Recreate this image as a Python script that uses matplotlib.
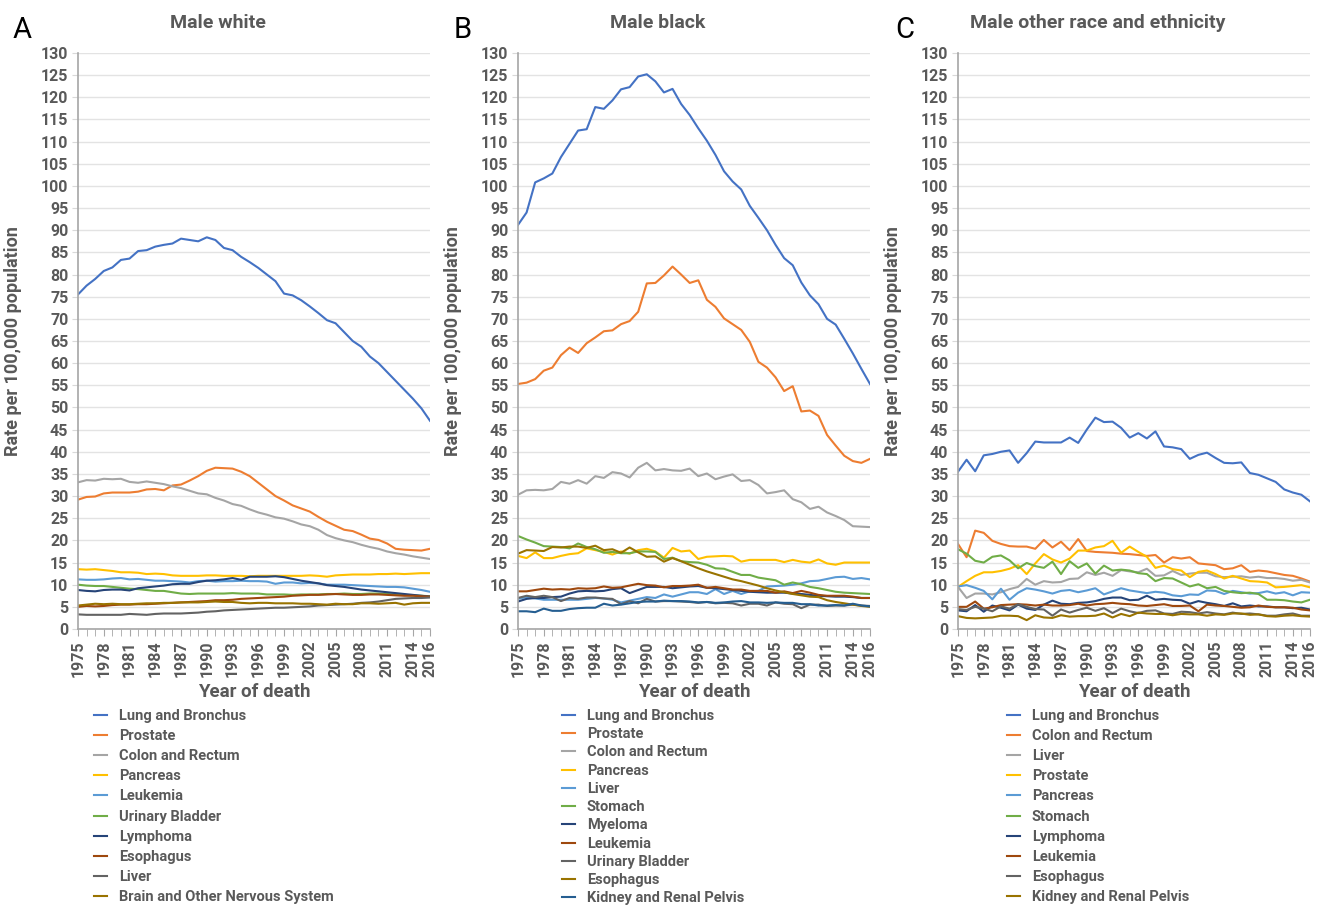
import numpy as np
import matplotlib
matplotlib.use("Agg")
import matplotlib.pyplot as plt

plt.rcParams['font.family'] = ['Roboto', 'DejaVu Sans']

years = np.arange(1975, 2017)
year_ticks = [1975, 1978, 1981, 1984, 1987, 1990, 1993, 1996, 1999, 2002,
              2005, 2008, 2011, 2014, 2016]

# A: male white
labels_w = ['Lung and Bronchus', 'Prostate', 'Colon and Rectum', 'Pancreas', 'Leukemia',
            'Urinary Bladder', 'Lymphoma', 'Esophagus', 'Liver', 'Brain and Other Nervous System']
lung_w = [75.5, 77.5, 79, 80.8, 81.6, 83.3, 83.6, 85.3, 85.5, 86.3, 86.7, 87, 88.1, 87.8, 87.5,
          88.4, 87.8, 86, 85.5, 84, 82.8, 81.5, 80, 78.5, 75.7, 75.3, 74.2, 72.8, 71.3, 69.7,
          69, 67, 65, 63.7, 61.5, 60, 58, 56, 54, 52, 49.8, 47]
prostate_w = [29.2, 29.8, 29.9, 30.6, 30.8, 30.8, 30.8, 31, 31.5, 31.6, 31.3, 32.4, 32.6, 33.5,
              34.5, 35.7, 36.4, 36.3, 36.2, 35.5, 34.5, 33, 31.5, 30, 29, 27.9, 27.2, 26.5,
              25.3, 24.2, 23.3, 22.4, 22.1, 21.3, 20.4, 20.1, 19.3, 18.1, 17.9, 17.8, 17.7, 18.1]
colon_w = [33.1, 33.6, 33.5, 33.9, 33.8, 33.9, 33.2, 33, 33.3, 33, 32.7, 32.2, 31.8, 31.2, 30.6,
           30.4, 29.6, 29, 28.2, 27.8, 27, 26.3, 25.8, 25.2, 24.9, 24.3, 23.6, 23.2, 22.4, 21.2,
           20.5, 20, 19.6, 19, 18.5, 18.1, 17.5, 17.1, 16.8, 16.4, 16.1, 15.8]
pancreas_w = [13.5, 13.4, 13.5, 13.3, 13.1, 12.8, 12.8, 12.7, 12.4, 12.5, 12.4, 12.1, 12.0, 12.0,
              12.0, 12.1, 12.1, 12.0, 12.0, 12.0, 11.9, 12.0, 12.0, 12.0, 12.0, 12.0, 12.0, 12.1,
              12.0, 11.8, 12.1, 12.2, 12.3, 12.3, 12.3, 12.4, 12.4, 12.5, 12.4, 12.5, 12.6, 12.6]
leuk_w = [11.2, 11.1, 11.1, 11.2, 11.4, 11.5, 11.2, 11.3, 11.1, 10.9, 10.9, 10.8, 10.7, 10.5,
          10.8, 10.9, 10.7, 10.8, 10.8, 10.9, 10.8, 10.8, 10.7, 10.2, 10.5, 10.5, 10.3, 10.4,
          10.3, 10.0, 10.0, 10.0, 9.9, 9.8, 9.7, 9.6, 9.5, 9.5, 9.4, 9.1, 8.8, 8.4]
bladder_w = [10.0, 9.8, 9.7, 9.7, 9.5, 9.3, 9.1, 9.0, 8.8, 8.6, 8.6, 8.3, 8.0, 7.9, 8.0, 8.0,
             8.0, 8.0, 8.1, 8.0, 8.0, 8.0, 7.8, 7.8, 7.8, 7.7, 7.8, 7.8, 7.8, 7.9, 7.9, 8.0,
             7.9, 7.9, 8.0, 8.0, 7.9, 7.8, 7.7, 7.6, 7.5, 7.4]
lymph_w = [8.8, 8.6, 8.5, 8.8, 8.9, 8.9, 8.7, 9.2, 9.4, 9.6, 9.8, 10.1, 10.2, 10.2, 10.6, 10.9,
           11.0, 11.2, 11.5, 11.1, 11.8, 11.8, 11.8, 11.9, 11.7, 11.3, 10.9, 10.6, 10.3, 9.9,
           9.7, 9.5, 9.2, 8.9, 8.7, 8.5, 8.3, 8.1, 7.9, 7.7, 7.5, 7.3]
esoph_w = [5.0, 5.2, 5.1, 5.2, 5.4, 5.5, 5.5, 5.6, 5.6, 5.7, 5.8, 5.9, 6.0, 6.1, 6.2, 6.3, 6.5,
           6.5, 6.6, 6.8, 6.9, 7.0, 7.1, 7.2, 7.3, 7.5, 7.6, 7.7, 7.7, 7.8, 7.9, 7.8, 7.7, 7.7,
           7.8, 7.8, 7.7, 7.6, 7.5, 7.5, 7.4, 7.3]
liver_w = [3.3, 3.2, 3.2, 3.2, 3.2, 3.2, 3.4, 3.3, 3.2, 3.4, 3.5, 3.5, 3.5, 3.6, 3.7, 3.9, 4.0,
           4.2, 4.3, 4.4, 4.5, 4.6, 4.7, 4.8, 4.8, 4.9, 5.0, 5.1, 5.3, 5.4, 5.5, 5.6, 5.7, 5.9,
           6.0, 6.2, 6.5, 6.8, 6.9, 7.0, 7.0, 7.1]
brain_w = [5.3, 5.5, 5.7, 5.6, 5.7, 5.6, 5.6, 5.7, 5.8, 5.8, 5.9, 5.9, 6.0, 6.0, 6.0, 6.1, 6.2,
           6.1, 6.1, 5.9, 5.8, 5.9, 5.9, 5.8, 5.8, 5.8, 5.7, 5.7, 5.6, 5.5, 5.7, 5.6, 5.6, 5.8,
           5.8, 5.7, 5.8, 5.9, 5.5, 5.8, 5.9, 5.9]

# B: male black
labels_b = ['Lung and Bronchus', 'Prostate', 'Colon and Rectum', 'Pancreas', 'Liver', 'Stomach',
            'Myeloma', 'Leukemia', 'Urinary Bladder', 'Esophagus', 'Kidney and Renal Pelvis']
lung_b = [91.2, 94, 100.8, 101.7, 102.8, 106.5, 109.5, 112.5, 112.8, 117.8, 117.4, 119.3, 121.8,
          122.3, 124.7, 125.2, 123.6, 121.1, 121.9, 118.5, 116, 113, 110.2, 107, 103.3, 101,
          99.2, 95.5, 92.8, 90, 86.7, 83.7, 82.1, 78.2, 75.3, 73.3, 70, 68.7, 65.5, 62.2, 58.7, 55.3]
prostate_b = [55.3, 55.6, 56.4, 58.3, 59, 61.8, 63.5, 62.3, 64.5, 65.8, 67.2, 67.4, 68.8, 69.5,
              71.6, 78, 78.1, 79.8, 81.8, 80, 78.1, 78.7, 74.3, 72.7, 70.1, 68.8, 67.5, 64.8,
              60.3, 59, 56.8, 53.7, 54.8, 49.1, 49.3, 48.1, 43.8, 41.4, 39.1, 37.9, 37.5, 38.4]
colon_b = [30.3, 31.3, 31.4, 31.3, 31.6, 33.2, 32.8, 33.6, 32.8, 34.5, 34.1, 35.4, 35.1, 34.2,
           36.4, 37.5, 35.8, 36.1, 35.8, 35.7, 36.2, 34.5, 35.1, 33.8, 34.4, 34.9, 33.4, 33.6,
           32.5, 30.6, 30.9, 31.3, 29.3, 28.6, 27.1, 27.6, 26.3, 25.5, 24.6, 23.2, 23.1, 23.0]
pancreas_b = [16.5, 16.0, 17.3, 16.0, 16.0, 16.5, 16.9, 17.1, 18.2, 17.8, 17.4, 16.8, 17.5, 17.0,
              17.8, 18.1, 17.5, 16.1, 18.3, 17.5, 17.7, 15.8, 16.3, 16.4, 16.5, 16.4, 15.2, 15.6,
              15.6, 15.6, 15.6, 15.1, 15.6, 15.2, 15.0, 15.7, 14.8, 14.5, 15.0, 15.0, 15.0, 15.0]
liver_b = [6.8, 7.2, 6.9, 6.6, 6.6, 6.6, 6.6, 6.6, 6.8, 7.0, 6.9, 6.6, 6.0, 6.4, 6.8, 7.2, 7.0,
           7.8, 7.3, 7.8, 8.3, 8.3, 7.9, 9.0, 7.9, 8.6, 7.9, 8.5, 8.6, 9.6, 9.7, 9.8, 10.0, 10.3,
           10.8, 10.9, 11.3, 11.7, 11.8, 11.3, 11.5, 11.2]
stomach_b = [21.0, 20.2, 19.5, 18.7, 18.6, 18.5, 18.2, 19.3, 18.5, 18.0, 17.2, 17.4, 17.1, 17.1,
             17.5, 17.5, 17.4, 15.8, 16.1, 15.3, 15.1, 15.0, 14.5, 13.7, 13.6, 12.9, 12.2, 12.2,
             11.6, 11.3, 11.0, 10.0, 10.5, 10.1, 9.5, 9.2, 8.8, 8.4, 8.2, 8.1, 8.0, 7.9]
myeloma_b = [6.2, 6.8, 7.0, 7.0, 7.2, 7.3, 8.0, 8.5, 8.6, 8.5, 8.6, 9.0, 9.2, 8.1, 8.8, 9.5,
             9.5, 9.5, 9.2, 9.4, 9.6, 9.7, 9.3, 9.2, 9.0, 8.8, 8.6, 8.4, 8.3, 8.2, 8.2, 8.2,
             8.0, 7.9, 7.7, 7.5, 7.4, 7.3, 7.3, 7.2, 7.0, 7.0]
leuk_b = [8.5, 8.5, 8.8, 9.1, 8.9, 9.0, 8.9, 9.2, 9.1, 9.2, 9.6, 9.3, 9.4, 9.8, 10.2, 9.9, 9.8,
          9.4, 9.7, 9.7, 9.8, 10.0, 9.3, 9.5, 9.2, 8.9, 8.9, 8.6, 8.6, 8.6, 8.2, 8.5, 8.1, 8.6,
          8.2, 7.7, 7.5, 7.5, 7.5, 7.3, 7.0, 7.0]
bladder_b = [7.0, 7.5, 7.2, 7.5, 7.2, 6.3, 7.0, 6.8, 7.1, 7.1, 6.9, 6.8, 5.6, 6.3, 5.8, 6.8, 6.2,
             6.3, 6.3, 6.2, 6.1, 5.9, 6.1, 5.8, 5.9, 5.8, 5.3, 5.7, 5.7, 5.3, 6.0, 5.7, 5.6, 4.7,
             5.5, 5.5, 5.2, 5.3, 5.3, 5.5, 5.3, 5.2]
esoph_b = [17.0, 17.8, 17.7, 17.6, 18.5, 18.4, 18.6, 18.6, 18.3, 18.8, 17.8, 18.0, 17.2, 18.4,
           17.3, 16.3, 16.4, 15.2, 16.0, 15.3, 14.5, 13.7, 13.0, 12.4, 11.8, 11.2, 10.8, 10.3,
           9.8, 9.2, 8.7, 8.3, 7.9, 7.6, 7.3, 7.2, 6.5, 6.1, 5.8, 5.5, 5.2, 5.0]
kidney_b = [4.0, 4.0, 3.8, 4.6, 4.1, 4.1, 4.5, 4.7, 4.8, 4.8, 5.7, 5.3, 5.5, 5.8, 6.1, 6.2, 6.2,
            6.4, 6.3, 6.3, 6.2, 6.0, 6.1, 5.9, 6.0, 6.2, 6.3, 6.0, 6.0, 5.9, 6.0, 5.9, 5.9, 5.6,
            5.6, 5.3, 5.3, 5.4, 5.3, 5.7, 5.3, 5.1]

# C: male other race and ethnicity
labels_o = ['Lung and Bronchus', 'Colon and Rectum', 'Liver', 'Prostate', 'Pancreas', 'Stomach',
            'Lymphoma', 'Leukemia', 'Esophagus', 'Kidney and Renal Pelvis']
lung_o = [35.5, 38.2, 35.6, 39.2, 39.5, 40, 40.3, 37.5, 39.7, 42.3, 42.1, 42.1, 42.1, 43.2, 42,
          45, 47.7, 46.7, 46.8, 45.4, 43.2, 44.2, 43, 44.6, 41.2, 41, 40.6, 38.4, 39.3, 39.8,
          38.6, 37.5, 37.4, 37.6, 35.2, 34.8, 34, 33.2, 31.5, 30.8, 30.3, 28.8]
colon_o = [19.2, 16.2, 22.2, 21.7, 19.9, 19.2, 18.7, 18.6, 18.6, 18.1, 20.1, 18.4, 19.7, 17.8,
           20.3, 17.6, 17.4, 17.3, 17.2, 17.0, 16.9, 16.7, 16.5, 16.7, 15.0, 16.2, 15.9, 16.2,
           14.8, 14.6, 14.4, 13.5, 13.7, 14.4, 12.9, 13.2, 13.0, 12.6, 12.2, 12.0, 11.4, 10.7]
liver_o = [9.5, 7.0, 8.0, 8.0, 7.8, 8.3, 9.0, 9.5, 11.3, 10.0, 10.8, 10.5, 10.6, 11.3, 11.4,
           12.8, 12.2, 12.7, 12.0, 13.3, 13.0, 12.8, 13.6, 12.0, 12.1, 13.1, 12.2, 12.5, 12.7,
           12.7, 11.9, 11.7, 11.8, 11.9, 11.6, 11.8, 11.5, 11.5, 11.3, 10.9, 11.1, 10.5]
prostate_o = [9.5, 10.8, 12.0, 12.8, 12.8, 13.1, 13.6, 14.4, 12.4, 14.8, 16.9, 15.7, 15.0, 15.9,
              17.7, 17.7, 18.4, 18.7, 19.9, 17.2, 18.6, 17.4, 16.3, 13.8, 14.3, 13.5, 13.2, 11.7,
              12.9, 13.2, 12.4, 11.4, 12.0, 11.4, 10.8, 10.7, 10.5, 9.4, 9.5, 9.7, 9.9, 9.4]
pancreas_o = [9.6, 9.9, 9.3, 8.6, 6.7, 9.1, 6.6, 8.2, 9.2, 8.9, 8.5, 8.0, 8.6, 8.8, 8.3, 8.7,
              9.2, 7.8, 8.5, 9.2, 8.7, 8.4, 8.1, 8.4, 8.2, 7.6, 7.4, 7.8, 7.7, 8.7, 8.6, 7.9,
              8.6, 8.3, 8.0, 8.1, 8.5, 8.0, 8.3, 7.6, 8.3, 8.2]
stomach_o = [18.0, 17.0, 15.4, 15.0, 16.3, 16.6, 15.5, 13.7, 14.9, 14.2, 13.8, 15.2, 12.4, 15.3,
             13.8, 14.8, 12.5, 14.3, 13.2, 13.4, 13.2, 12.6, 12.4, 10.8, 11.5, 11.4, 10.5, 9.6,
             10.1, 9.2, 9.5, 8.6, 8.3, 8.1, 8.2, 7.9, 6.6, 6.6, 6.5, 6.2, 6.0, 6.6]
lymph_o = [4.2, 4.0, 5.4, 3.9, 5.3, 4.8, 4.2, 5.5, 4.6, 4.3, 5.5, 6.4, 5.7, 5.6, 5.9, 6.0, 6.3,
           6.8, 7.1, 7.1, 6.5, 6.6, 7.5, 6.6, 6.8, 6.6, 6.5, 5.7, 6.3, 5.9, 5.6, 5.2, 5.8, 5.1,
           5.3, 5.1, 5.1, 4.9, 4.9, 4.7, 4.8, 4.4]
leuk_o = [5.0, 5.0, 6.2, 4.6, 4.9, 5.4, 5.5, 5.6, 5.5, 5.3, 5.5, 5.3, 5.3, 5.4, 5.7, 5.3, 5.6,
          5.7, 5.9, 5.7, 5.6, 5.3, 5.2, 5.4, 5.6, 5.2, 5.2, 5.3, 4.0, 5.5, 5.3, 5.2, 5.0, 4.8,
          4.9, 5.3, 5.0, 4.9, 4.9, 4.8, 4.4, 4.2]
esoph_o = [4.5, 4.3, 5.0, 4.6, 4.0, 5.1, 4.6, 5.6, 5.0, 4.5, 4.4, 3.0, 4.4, 3.7, 4.3, 4.8, 4.1,
           4.7, 3.6, 4.6, 4.0, 3.6, 4.1, 4.2, 3.5, 3.4, 3.9, 3.8, 3.5, 3.8, 3.5, 3.3, 3.7, 3.4,
           3.5, 3.3, 3.0, 3.0, 3.3, 3.5, 3.0, 3.0]
kidney_o = [2.9, 2.5, 2.4, 2.5, 2.6, 3.0, 3.0, 2.9, 2.0, 3.1, 2.6, 2.5, 3.1, 2.8, 2.9, 2.9, 3.0,
            3.5, 2.6, 3.4, 2.9, 3.7, 3.5, 3.4, 3.4, 3.1, 3.4, 3.3, 3.3, 3.0, 3.3, 3.2, 3.5, 3.5,
            3.2, 3.3, 2.9, 2.8, 3.0, 3.1, 2.9, 2.8]

# excel office palette
colors = ['#4472C4', '#ED7D31', '#A5A5A5', '#FFC000', '#5B9BD5', '#70AD47',
          '#264478', '#9E480E', '#636363', '#997300', '#255E91']
txt = '#595959'

fig = plt.figure(figsize=(13.2, 9.08), dpi=100)
W, H = 1320, 908


def panel(left_px, series, labels, letter, letter_x, title, title_x, leg_x, leg_space):
    ax = fig.add_axes([left_px / W, 1 - 629 / H, 352 / W, 576 / H])
    for i, (s, lab) in enumerate(zip(series, labels)):
        ax.plot(years, s, color=colors[i], lw=1.5, label=lab)
    ax.set_xlim(1975, 2016)
    ax.set_ylim(0, 130)
    ax.set_yticks(np.arange(0, 131, 5))
    ax.set_xticks(year_ticks)
    ax.set_xticks(years, minor=True)
    ax.grid(axis='y', color='#E3E3E3', lw=1)
    ax.set_axisbelow(True)
    for sp in ['top', 'right']:
        ax.spines[sp].set_visible(False)
    for sp in ['left', 'bottom']:
        ax.spines[sp].set_color('#A6A6A6')
        ax.spines[sp].set_linewidth(1.2)
    ax.tick_params(axis='y', length=4, color='#D9D9D9', labelsize=11.5, labelcolor=txt, pad=3)
    ax.tick_params(axis='x', which='both', length=5, color='#A6A6A6', direction='out')
    ax.tick_params(axis='x', labelsize=11.5, labelcolor=txt, labelrotation=90, pad=3)
    for t in ax.get_xticklabels() + ax.get_yticklabels():
        t.set_fontweight('bold')
    ax.set_ylabel('Rate per 100,000 population', fontsize=13, fontweight='bold', color=txt)
    ax.yaxis.set_label_coords(-0.16, 0.5)
    ax.set_xlabel('Year of death', fontsize=13.5, fontweight='bold', color=txt)
    ax.xaxis.set_label_coords(0.5, -0.094)
    fig.text(letter_x / W, 1 - 30 / H, letter, fontsize=21, ha='center', va='center')
    fig.text(title_x / W, 1 - 23 / H, title, fontsize=14, fontweight='bold', color=txt,
             ha='center', va='center')
    leg = ax.legend(loc='upper left', bbox_to_anchor=(leg_x / W, 1 - 709 / H),
                    bbox_transform=fig.transFigure, frameon=False, fontsize=10.5,
                    handlelength=0.9, handletextpad=0.8, labelspacing=leg_space,
                    borderpad=0, borderaxespad=0)
    for t in leg.get_texts():
        t.set_color(txt)
        t.set_fontweight('bold')
    return ax


panel(78, [lung_w, prostate_w, colon_w, pancreas_w, leuk_w, bladder_w, lymph_w, esoph_w,
           liver_w, brain_w], labels_w, 'A', 22, 'Male white', 218, 94, 0.42)
panel(518, [lung_b, prostate_b, colon_b, pancreas_b, liver_b, stomach_b, myeloma_b, leuk_b,
            bladder_b, esoph_b, kidney_b], labels_b, 'B', 463, 'Male black', 658, 562, 0.29)
panel(958, [lung_o, colon_o, liver_o, prostate_o, pancreas_o, stomach_o, lymph_o, leuk_o,
            esoph_o, kidney_o], labels_o, 'C', 905, 'Male other race and ethnicity', 1098, 1007, 0.42)

fig.savefig('out.png', dpi=100)
